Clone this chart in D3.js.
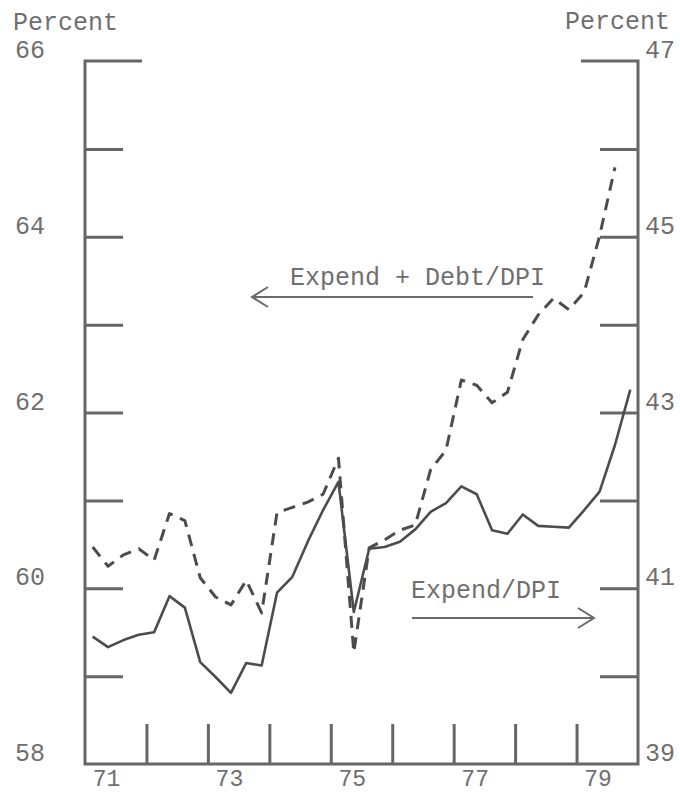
<!DOCTYPE html>
<html>
<head>
<meta charset="utf-8">
<script src="https://cdn.jsdelivr.net/npm/d3@7"></script>
<style>
  body { margin: 0; background: #fff; }
  svg text { font-family: "Liberation Mono", "DejaVu Sans Mono", monospace; fill: #6f6f6f; }
</style>
</head>
<body>
<svg id="chart" width="680" height="795"></svg>
<script>
// quarterly, 1971Q1 onward
const years = [1971, 1972, 1973, 1974, 1975, 1976, 1977, 1978, 1979];

// Expend/DPI (right axis), 1971Q1 - 1979Q4
const expendDpi = [
  40.45, 40.33, 40.41, 40.47,
  40.50, 40.91, 40.78, 40.16,
  39.99, 39.81, 40.15, 40.12,
  40.95, 41.13, 41.53, 41.89,
  42.21, 40.73, 41.45, 41.47,
  41.53, 41.67, 41.87, 41.97,
  42.16, 42.07, 41.66, 41.62,
  41.84, 41.71, 41.70, 41.69,
  41.89, 42.10, 42.63, 43.26
];

// Expend + Debt/DPI (left axis), 1971Q1 - 1979Q3
const expendDebtDpi = [
  60.47, 60.25, 60.38, 60.45,
  60.32, 60.85, 60.77, 60.12,
  59.90, 59.81, 60.09, 59.72,
  60.86, 60.92, 60.98, 61.07,
  61.48, 59.27, 60.46, 60.55,
  60.66, 60.72, 61.35, 61.57,
  62.37, 62.31, 62.11, 62.23,
  62.83, 63.11, 63.30, 63.17,
  63.37, 64.01, 64.79
];

const leftTickLabels = [58, 60, 62, 64, 66];
const rightTickLabels = [39, 41, 43, 45, 47];
const xTickLabels = ["71", "73", "75", "77", "79"];

const svg = d3.select("#chart");
const ink = "#4c4c4c";
const axisInk = "#666";

const x = d3.scaleLinear().domain([1971, 1980]).range([85, 638]);
const yL = d3.scaleLinear().domain([58, 66]).range([764, 61]);
const yR = d3.scaleLinear().domain([39, 47]).range([764, 61]);

const quarters = [];
years.forEach(yr => [0, 1, 2, 3].forEach(q => quarters.push(yr + q * 0.25 + 0.125)));

// frame
const frame = svg.append("g").attr("stroke", axisInk).attr("stroke-width", 3).attr("fill", "none");
frame.append("path")
  .attr("d", `M${x(1971) + 57},${yL(66)}H${x(1971)}V${yL(58)}H${x(1980)}V${yR(47)}H${x(1980) - 57}`);

// left ticks (inward)
svg.append("g")
  .attr("transform", `translate(${x(1971)},0)`)
  .call(d3.axisRight(yL).tickValues(d3.range(59, 66)).tickSize(38).tickFormat(""))
  .call(g => g.select(".domain").remove())
  .call(g => g.selectAll("line").attr("stroke", axisInk).attr("stroke-width", 3));

// right ticks (inward)
svg.append("g")
  .attr("transform", `translate(${x(1980)},0)`)
  .call(d3.axisLeft(yR).tickValues(d3.range(40, 47)).tickSize(38).tickFormat(""))
  .call(g => g.select(".domain").remove())
  .call(g => g.selectAll("line").attr("stroke", axisInk).attr("stroke-width", 3));

// bottom ticks (upward)
svg.append("g")
  .attr("transform", `translate(0,${yL(58)})`)
  .call(d3.axisTop(x).tickValues(d3.range(1972, 1980)).tickSize(40).tickFormat(""))
  .call(g => g.select(".domain").remove())
  .call(g => g.selectAll("line").attr("stroke", axisInk).attr("stroke-width", 3));

// axis labels
const fs = 25;
svg.append("text").attr("x", 13).attr("y", 30).attr("font-size", fs).text("Percent");
svg.append("text").attr("x", 670).attr("y", 29).attr("font-size", fs).attr("text-anchor", "end").text("Percent");

svg.selectAll(".lt").data(leftTickLabels).enter().append("text")
  .attr("x", 15)
  .attr("y", d => yL(d) - 3)
  .attr("font-size", fs)
  .text(d => d);

svg.selectAll(".rt").data(rightTickLabels).enter().append("text")
  .attr("x", 645)
  .attr("y", d => yR(d) - 3)
  .attr("font-size", fs)
  .text(d => d);

svg.selectAll(".xt").data(xTickLabels).enter().append("text")
  .attr("x", d => x(1900 + +d + 0.35))
  .attr("y", 786)
  .attr("font-size", 23)
  .attr("text-anchor", "middle")
  .text(d => d);

// series
const lineR = d3.line().x((d, i) => x(quarters[i])).y(d => yR(d));
const lineL = d3.line().x((d, i) => x(quarters[i])).y(d => yL(d));

svg.append("path")
  .datum(expendDebtDpi)
  .attr("d", lineL)
  .attr("fill", "none")
  .attr("stroke", ink)
  .attr("stroke-width", 3)
  .attr("stroke-dasharray", "12,8")
  .attr("stroke-linejoin", "round");

svg.append("path")
  .datum(expendDpi)
  .attr("d", lineR)
  .attr("fill", "none")
  .attr("stroke", ink)
  .attr("stroke-width", 2.6)
  .attr("stroke-linejoin", "round");

// annotations
const ann = svg.append("g").attr("stroke", "#6a6a6a").attr("stroke-width", 2).attr("fill", "none");
svg.append("text").attr("x", 290).attr("y", 285).attr("font-size", fs).text("Expend + Debt/DPI");
ann.append("path").attr("d", "M533,297H252");
ann.append("path").attr("d", "M268,287L252,297L268,307");

svg.append("text").attr("x", 411).attr("y", 598).attr("font-size", fs).text("Expend/DPI");
ann.append("path").attr("d", "M412,618H593");
ann.append("path").attr("d", "M578,608L594,618L578,628");
</script>
</body>
</html>
